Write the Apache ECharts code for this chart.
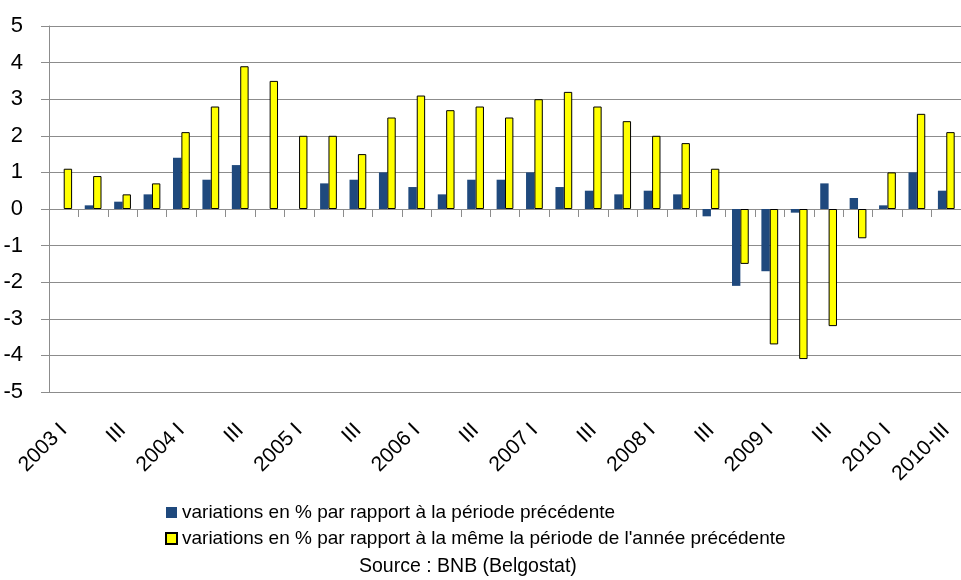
<!DOCTYPE html>
<html>
<head>
<meta charset="utf-8">
<script src="https://cdn.jsdelivr.net/npm/echarts@6/dist/echarts.min.js"></script>
<style>
  html, body { margin: 0; padding: 0; background: #fff; }
  #main { width: 961px; height: 580px; }
</style>
</head>
<body>
<div id="main"></div>
<script>
// trimestres 2003 I .. 2010 III
var quarters = [
  '2003 I', 'II', 'III', 'IV',
  '2004 I', 'II', 'III', 'IV',
  '2005 I', 'II', 'III', 'IV',
  '2006 I', 'II', 'III', 'IV',
  '2007 I', 'II', 'III', 'IV',
  '2008 I', 'II', 'III', 'IV',
  '2009 I', 'II', 'III', 'IV',
  '2010 I', 'II', '2010-III'
]
// variations par rapport à la période précédente
var periodChange = [
  0, 0.1, 0.2, 0.4,
  1.4, 0.8, 1.2, 0,
  0, 0.7, 0.8, 1.0,
  0.6, 0.4, 0.8, 0.8,
  1.0, 0.6, 0.5, 0.4,
  0.5, 0.4, -0.2, -2.1,
  -1.7, -0.1, 0.7, 0.3,
  0.1, 1.0, 0.5
]
// variations par rapport à la même période de l'année précédente
var yearChange = [
  1.1, 0.9, 0.4, 0.7,
  2.1, 2.8, 3.9, 3.5,
  2.0, 2.0, 1.5, 2.5,
  3.1, 2.7, 2.8, 2.5,
  3.0, 3.2, 2.8, 2.4,
  2.0, 1.8, 1.1, -1.5,
  -3.7, -4.1, -3.2, -0.8,
  1.0, 2.6, 2.1
]
var seriesNames = [
  'variations en % par rapport à la période précédente',
  "variations en % par rapport à la même la période de l'année précédente"
]

var font = "'Liberation Sans', Arial, sans-serif"
var gray = '#8c8c8c'

var chart = echarts.init(document.getElementById('main'))
chart.setOption({
  animation: false,
  textStyle: { fontFamily: font, color: '#000' },
  graphic: [
    {
      type: 'text',
      left: 359,
      top: 557,
      style: {
        text: 'Source : BNB (Belgostat)',
        font: '19.5px ' + font,
        fill: '#000'
      }
    }
  ],
  legend: {
    orient: 'vertical',
    left: 165,
    top: 503,
    padding: 0,
    itemWidth: 11,
    itemHeight: 11,
    itemGap: 7,
    icon: 'rect',
    data: seriesNames,
    textStyle: { fontFamily: font, fontSize: 19, lineHeight: 19, color: '#000' }
  },
  grid: { left: 49, right: -13, top: 26, bottom: 188 },
  xAxis: [
    {
      type: 'category',
      data: quarters,
      axisLine: { onZero: true, lineStyle: { color: gray } },
      axisTick: { show: true, interval: 0, length: 8, lineStyle: { color: gray } },
      axisLabel: { show: false },
      splitLine: { show: false }
    },
    {
      type: 'category',
      data: quarters,
      position: 'bottom',
      axisLine: { show: false, onZero: false },
      axisTick: { show: false },
      axisLabel: {
        interval: 1,
        rotate: 45,
        margin: 35,
        fontSize: 21,
        fontFamily: font,
        color: '#000'
      }
    }
  ],
  yAxis: {
    type: 'value',
    min: -5,
    max: 5,
    interval: 1,
    axisLine: { show: true, lineStyle: { color: gray } },
    axisTick: { show: true, length: 8, lineStyle: { color: gray } },
    axisLabel: { fontSize: 22, margin: 26, fontFamily: font, color: '#000' },
    splitLine: { lineStyle: { color: gray, width: 1 } }
  },
  series: [
    {
      name: seriesNames[0],
      type: 'bar',
      xAxisIndex: 0,
      data: periodChange,
      barGap: '0%',
      barCategoryGap: '43%',
      itemStyle: { color: '#1f497d' }
    },
    {
      name: seriesNames[1],
      type: 'bar',
      xAxisIndex: 0,
      data: yearChange,
      barGap: '0%',
      barCategoryGap: '43%',
      itemStyle: { color: '#ffff00', borderColor: '#000', borderWidth: 1 }
    }
  ]
})
</script>
</body>
</html>
